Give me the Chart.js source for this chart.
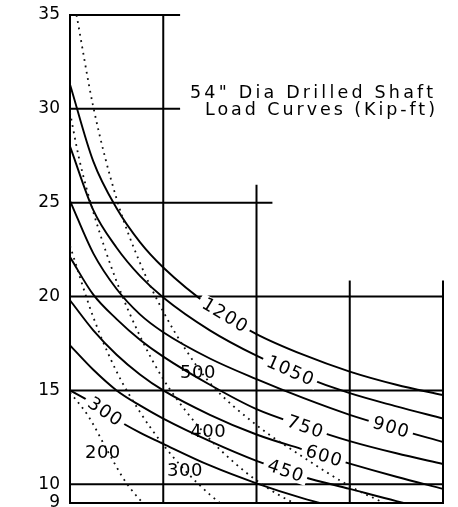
<!DOCTYPE html>
<html><head><meta charset="utf-8">
<script src="https://cdn.jsdelivr.net/npm/chart.js@4.4.1/dist/chart.umd.min.js"></script>
<style>html,body{margin:0;padding:0;background:#fff;}#wrap{width:458px;height:507px;}</style>
</head><body><div id="wrap"><canvas id="c" width="458" height="507"></canvas></div>
<script>
// ---- data ----
const yTickValues = [9, 10, 15, 20, 25, 30, 35];
const solidX = [0, 0.25, 0.5, 0.75, 1, 1.5, 2, 2.5, 3, 3.5, 4];
const load1200 = [31.3, 27.2, 24.7, 22.9, 21.55, 19.5, 18.0, 16.9, 16.0, 15.3, 14.75];
const load1050 = [28.0, 24.6, 22.6, 21.1, 19.95, 18.2, 16.85, 15.75, 14.85, 14.15, 13.5];
const load900  = [25.1, 22.3, 20.4, 19.05, 18.1, 16.7, 15.6, 14.6, 13.7, 12.95, 12.25];
const load750  = [22.1, 20.1, 18.8, 17.7, 16.8, 15.3, 14.0, 13.1, 12.3, 11.65, 11.08];
const load600  = [19.8, 18.2, 16.9, 15.85, 15.0, 13.7, 12.65, 11.85, 11.1, 10.4, 9.75];
const load450  = [17.4, 16.1, 15.0, 14.2, 13.5, 12.3, 11.25, 10.4, 9.75, 9.1, 8.5];
const load300  = [15.0, 14.3, 13.45, 12.75, 12.15, 11.0, 10.05, 9.25, 8.6];

const dot500X = [0.07, 0.25, 0.5, 0.75, 1, 1.25, 1.5, 2, 2.5, 3, 3.5];
const dot500  = [35.0, 30.1, 25.2, 21.8, 19.2, 17.1, 15.4, 13.15, 11.45, 9.9, 8.7];
const dot400X = [0, 0.1, 0.25, 0.5, 0.75, 1, 1.25, 1.5, 1.75, 2, 2.25, 2.5];
const dot400  = [29.8, 27.3, 24.5, 20.8, 17.9, 15.6, 13.85, 12.4, 11.2, 10.2, 9.4, 8.75];
const dot300X = [0, 0.25, 0.5, 0.75, 1, 1.25, 1.5, 1.75];
const dot300  = [22.7, 18.9, 16.0, 13.85, 12.1, 10.65, 9.45, 8.45];
const dot200X = [0, 0.2, 0.4, 0.6, 0.8, 1];
const dot200  = [14.9, 13.6, 11.8, 10.1, 8.9, 7.9];

const solidCurves = [
  ['1200', solidX, load1200], ['1050', solidX, load1050], ['900', solidX, load900],
  ['750', solidX, load750], ['600', solidX, load600], ['450', solidX, load450], ['300', solidX, load300]
];
const dottedCurves = [
  ['500', dot500X, dot500], ['400', dot400X, dot400], ['300', dot300X, dot300], ['200', dot200X, dot200]
];
// label x-positions along solid curves
const solidLabelAt = {'1200': 1.66, '1050': 2.36, '900': 3.44, '750': 2.52, '600': 2.72, '450': 2.31, '300': 0.375};
// dotted curve labels (data coords)
const dottedLabels = [['500', 1.37, 15.98], ['400', 1.48, 12.84], ['300', 1.23, 10.76], ['200', 0.35, 11.72]];

// frame / grid segments (data coords)
const hLines = [[35, 0, 1.17], [30, 0, 1.17], [25, 0, 2.16], [20, 0, 4], [15, 0, 4], [10, 0, 4], [9, 0, 4]];
const vLines = [[0, 9, 35], [1, 9, 35], [2, 9, 25.9], [3, 9, 20.8], [4, 9, 20.8]];

const FONT = '"DejaVu Sans", sans-serif';

function pts(xs, ys) { return ys.map((y, i) => ({x: xs[i], y})); }
function interp(xs, ys, x) {
  for (let i = 0; i < ys.length - 1; i++) {
    if (x >= xs[i] && x <= xs[i + 1]) {
      const t = (x - xs[i]) / (xs[i + 1] - xs[i]);
      return ys[i] + t * (ys[i + 1] - ys[i]);
    }
  }
  return ys[ys.length - 1];
}

const datasets = [];
dottedCurves.forEach(([name, xs, ys]) => datasets.push({
  label: 'dot ' + name, data: pts(xs, ys), borderColor: '#111', borderWidth: 1.8,
  borderDash: [1.8, 4.6], pointRadius: 0, fill: false, cubicInterpolationMode: 'monotone'
}));
const firstSolid = datasets.length;
solidCurves.forEach(([name, xs, ys]) => datasets.push({
  label: name, data: pts(xs, ys), borderColor: '#000', borderWidth: 1.9,
  pointRadius: 0, fill: false, cubicInterpolationMode: 'monotone'
}));

function drawText(ctx, text, x, y, angle, spacing, mask) {
  ctx.save();
  ctx.translate(x, y);
  ctx.rotate(angle);
  ctx.font = '18px ' + FONT;
  if ('letterSpacing' in ctx) ctx.letterSpacing = spacing + 'px';
  ctx.textAlign = 'center';
  ctx.textBaseline = 'middle';
  const w = ctx.measureText(text).width;
  if (mask) { ctx.fillStyle = '#fff'; ctx.fillRect(-w / 2 - 4, -8, w + 8, 16); }
  ctx.fillStyle = '#000';
  ctx.fillText(text, spacing / 2, 1);
  ctx.restore();
}

const framePlugin = {
  id: 'frame',
  beforeDatasetsDraw(chart) {
    const {ctx, scales: {x, y}} = chart;
    ctx.save();
    ctx.strokeStyle = '#000'; ctx.lineWidth = 2; ctx.lineCap = 'square';
    hLines.forEach(([v, a, b]) => {
      ctx.beginPath(); ctx.moveTo(x.getPixelForValue(a), y.getPixelForValue(v));
      ctx.lineTo(x.getPixelForValue(b), y.getPixelForValue(v)); ctx.stroke();
    });
    vLines.forEach(([v, a, b]) => {
      ctx.beginPath(); ctx.moveTo(x.getPixelForValue(v), y.getPixelForValue(a));
      ctx.lineTo(x.getPixelForValue(v), y.getPixelForValue(b)); ctx.stroke();
    });
    ctx.restore();
  },
  afterDatasetDraw(chart, args) {
    if (args.index !== firstSolid) return;
    const {ctx, scales: {x, y}} = chart;
    solidCurves.forEach(([name, xs, ys]) => {
      const lx = solidLabelAt[name];
      const px = x.getPixelForValue(lx), py = y.getPixelForValue(interp(xs, ys, lx));
      const d = 0.12;
      const p1x = x.getPixelForValue(lx - d), p1y = y.getPixelForValue(interp(xs, ys, lx - d));
      const p2x = x.getPixelForValue(lx + d), p2y = y.getPixelForValue(interp(xs, ys, lx + d));
      drawText(ctx, name, px, py, Math.atan2(p2y - p1y, p2x - p1x), 1.2, true);
    });
  },
  afterDatasetsDraw(chart) {
    const {ctx, scales: {x, y}} = chart;
    dottedLabels.forEach(([t, lx, ly]) => drawText(ctx, t, x.getPixelForValue(lx), y.getPixelForValue(ly), 0, 0.5, false));
    // heading
    ctx.save();
    ctx.fillStyle = '#000';
    ctx.font = '17.5px ' + FONT;
    ctx.textBaseline = 'alphabetic';
    const lines = [['54" Dia Drilled Shaft', 190, 98, 243], ['Load Curves (Kip-ft)', 205, 115, 230]];
    lines.forEach(([t, lx, ly, tw]) => {
      if ('letterSpacing' in ctx) {
        ctx.letterSpacing = '0px';
        const w = ctx.measureText(t).width;
        ctx.letterSpacing = ((tw - w) / (t.length - 1)) + 'px';
      }
      ctx.fillText(t, lx, ly);
    });
    ctx.restore();
  }
};

new Chart(document.getElementById('c'), {
  type: 'line',
  data: {datasets},
  options: {
    responsive: false, animation: false, devicePixelRatio: 1,
    layout: {padding: {left: 0, right: 15, top: 15, bottom: 4}},
    plugins: {legend: {display: false}, tooltip: {enabled: false}, title: {display: false}},
    scales: {
      x: {type: 'linear', min: 0, max: 4, display: false},
      y: {
        type: 'linear', min: 9, max: 35,
        grid: {display: false, drawTicks: false}, border: {display: false},
        afterBuildTicks(s) { s.ticks = yTickValues.map(v => ({value: v})); },
        afterFit(s) { s.width = 70; s.paddingTop = 0; s.paddingBottom = 0; },
        ticks: {autoSkip: false, padding: 10, color: '#000', font: {family: FONT, size: 17}}
      }
    }
  },
  plugins: [framePlugin]
});
</script></body></html>
